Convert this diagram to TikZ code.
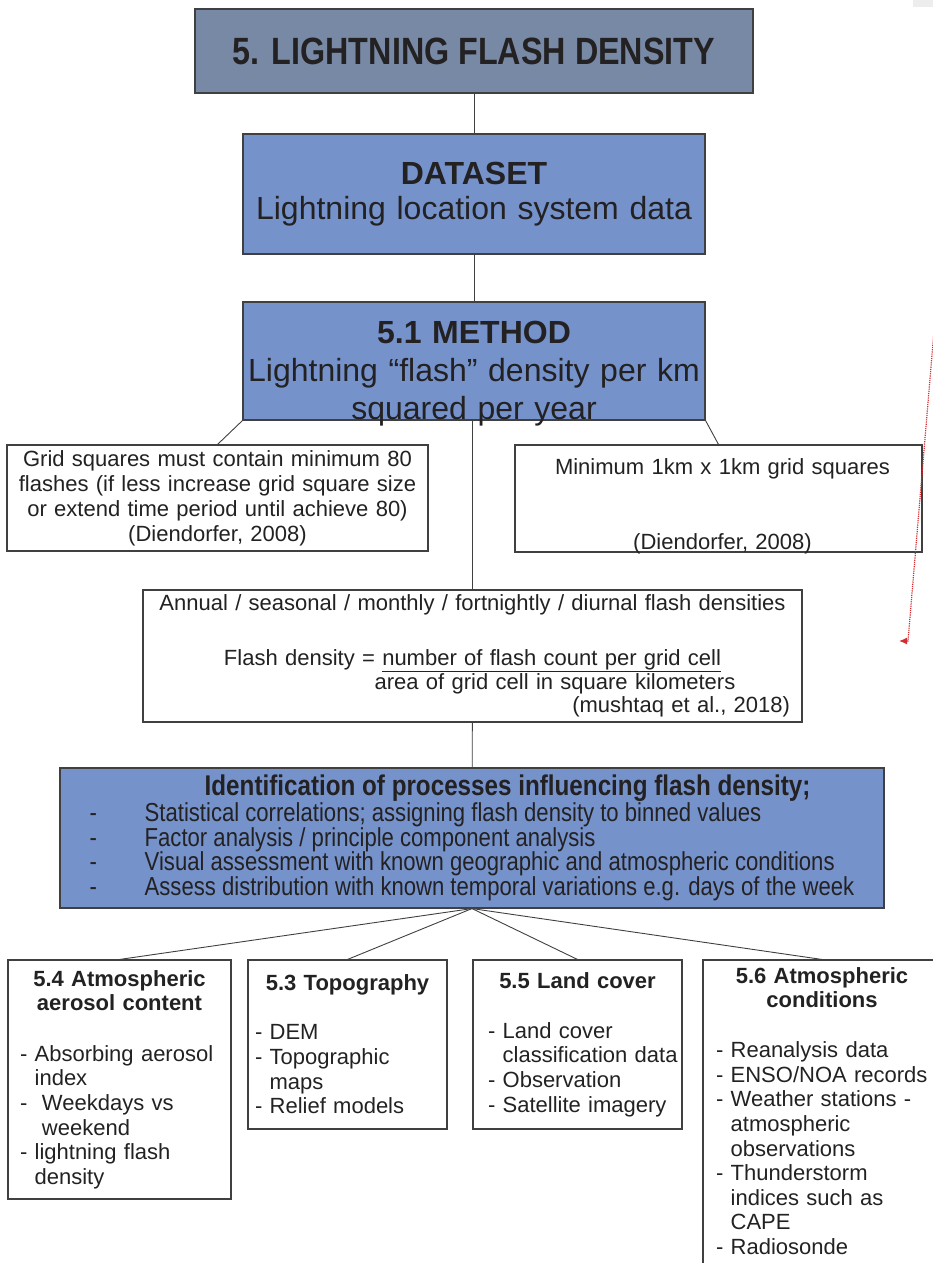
\documentclass[tikz,border=0pt]{standalone}
\usepackage{fontspec}
\setmainfont{Liberation Sans}
\newfontfamily\narrowfont[FakeStretch=0.85]{Liberation Sans}
\usetikzlibrary{arrows.meta}
\definecolor{slate}{RGB}{120,137,166}
\definecolor{boxblue}{RGB}{117,146,203}
\definecolor{ink}{RGB}{35,33,34}
\definecolor{edgegray}{RGB}{64,64,64}
\definecolor{linkred}{RGB}{210,45,50}
\newcommand{\fsize}[2]{\fontsize{#1}{#2}\selectfont}
\newcommand{\ind}{\phantom{- }}

\begin{document}
\begin{tikzpicture}
[x=1pt, y=-1pt, text=ink,
block/.style ={rectangle, draw=edgegray, line width=1.1pt, inner sep=0pt, align=center},
head/.style  ={block, fill=boxblue, font={\fsize{32}{35}}},
note/.style  ={block, fill=white, font={\fsize{22}{25}}},
leaf/.style  ={block, align=left, font={\fsize{22}{24.6}}},
every edge/.style={draw=edgegray, line width=0.9pt}]
\useasboundingbox (0,0) rectangle (933,1263);
\fill[black!7] (913,0) rectangle (933,7);

    \node[block, fill=slate, minimum width=558pt, minimum height=84pt, font={\narrowfont\bfseries\fsize{38}{42}}] (lfd) at (474,51) {5. LIGHTNING FLASH DENSITY};
    \node[head, text width=450pt, minimum width=462pt, minimum height=120pt] (dataset) at (474,194) {\textbf{DATASET}\\Lightning location system data};
    \node[head, text width=455pt, minimum width=462pt, minimum height=118pt, font={\fsize{32}{38}}] (method) at (474,361)
      {\rule{0pt}{40pt}\textbf{5.1 METHOD}\\Lightning “flash” density per km\\\smash{squared per year}};
    \node[note, text width=405pt, minimum width=421pt, minimum height=106pt] (grid) at (217.5,498)
      {Grid squares must contain minimum 80\\flashes (if less increase grid square size\\or extend time period until achieve 80)\\(Diendorfer, 2008)};
    \node[note, text width=390pt, minimum width=407pt, minimum height=107pt] (mingrid) at (718.5,498.5)
      {\rule{0pt}{26pt}\hspace*{8pt}Minimum 1km x 1km grid squares\\[50pt]\hspace*{8pt}\smash{(Diendorfer, 2008)}};
    \node[note, text width=635pt, minimum width=659pt, minimum height=132pt, font={\fsize{22}{23.5}}] (annual) at (472.5,656)
      {Annual / seasonal / monthly / fortnightly / diurnal flash densities\\[31.5pt]
       Flash density = \underline{number of flash count per grid cell}\\
       \hspace*{165pt}area of grid cell in square kilometers\\
       \hspace*{0pt plus 1filll}(mushtaq et al., 2018)};
    \node[block, fill=boxblue, align=left, minimum width=824pt, minimum height=140pt, font={\narrowfont\fsize{26}{24.75}}] (ident) at (472,838)
      {\hspace*{115pt}{\fsize{28.5}{24.75}\bfseries Identification of processes influencing flash density;}\\
       \makebox[55pt][l]{-}Statistical correlations; assigning flash density to binned values\\
       \makebox[55pt][l]{-}Factor analysis / principle component analysis\\
       \makebox[55pt][l]{-}Visual assessment with known geographic and atmospheric conditions\\
       \makebox[55pt][l]{-}Assess distribution with known temporal variations e.g. days of the week};
    \node[leaf, text width=199pt, minimum width=223pt, minimum height=239pt] (aerosol) at (119.5,1079.5)
      {{\centering\bfseries 5.4 Atmospheric\\aerosol content\par}\vspace{26pt}
       - Absorbing aerosol\\\ind index\\-\ \ Weekdays vs\\\phantom{-\ \ }weekend\\- lightning flash\\\ind density};
    \node[leaf, text width=185pt, minimum width=199pt, minimum height=169pt] (topo) at (347.5,1044.5)
      {{\centering\bfseries 5.3 Topography\par}\vspace{24.4pt}
       - DEM\\- Topographic\\\ind maps\\- Relief models};
    \node[leaf, text width=195pt, minimum width=209pt, minimum height=169pt] (landcover) at (577.5,1044.5)
      {{\centering\bfseries 5.5 Land cover\par}\vspace{25.4pt}
       \mbox{\hspace*{8pt}- Land cover}\\\mbox{\hspace*{8pt}\ind classification data}\\\mbox{\hspace*{8pt}- Observation}\\\mbox{\hspace*{8pt}- Satellite imagery}};
    \node[leaf, text width=212pt, minimum width=238pt, minimum height=322pt] (atmos) at (822,1121)
      {{\centering\bfseries 5.6 Atmospheric\\conditions\par}\vspace{25.4pt}
       - Reanalysis data\\- ENSO/NOA records\\- Weather stations -\\\ind atmospheric\\\ind observations\\
       - Thunderstorm\\\ind indices such as\\\ind CAPE\\- Radiosonde\par\vspace*{20pt}};

    \coordinate (redfrom) at (934.5,325);
    \coordinate (redbend) at (908,641);
    \coordinate (redto) at (899,641);

    \path (lfd) edge (dataset);
    \path (dataset) edge (method);
    \path (method.south west) edge (grid.north);
    \path (method.south east) edge (mingrid.north);
    \path (annual.north |- method.south) edge (annual.north);
    \path (annual) edge (ident);
    \path (ident.south) edge (aerosol.north);
    \path (ident.south) edge (topo.north);
    \path (ident.south) edge (landcover.north);
    \path (ident.south) edge (atmos.north);
    \draw[linkred, densely dotted, line width=1.2pt, -{Latex[length=8pt,width=7pt]}] (redfrom) -- (redbend) -- (redto);
\end{tikzpicture}
\end{document}
